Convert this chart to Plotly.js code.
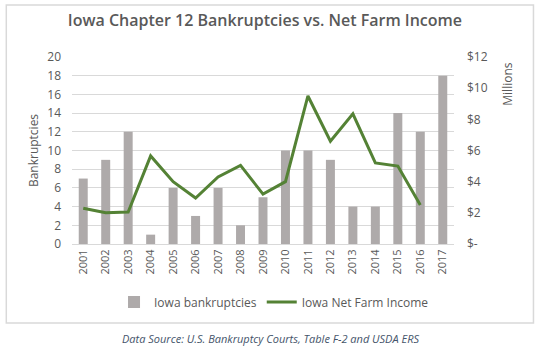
<!DOCTYPE html>
<html>
<head>
<meta charset="utf-8">
<script src="https://cdn.plot.ly/plotly-3.0.1.min.js"></script>
<style>html,body{margin:0;padding:0;background:#fff;}#chart{width:542px;height:353px;}</style>
</head>
<body>
<div id="chart"></div>
<script>
const years = ["2001","2002","2003","2004","2005","2006","2007","2008","2009","2010","2011","2012","2013","2014","2015","2016","2017"];
const bankruptcies = [7, 9, 12, 1, 6, 3, 6, 2, 5, 10, 10, 9, 4, 4, 14, 12, 18];
const incomeYears = ["2001","2002","2003","2004","2005","2006","2007","2008","2009","2010","2011","2012","2013","2014","2015","2016"];
const netFarmIncome = [2.3, 2.0, 2.05, 5.65, 4.0, 2.95, 4.3, 5.05, 3.2, 4.0, 9.5, 6.6, 8.35, 5.2, 5.0, 2.5];
const rightTickVals = [0, 2, 4, 6, 8, 10, 12];
const rightTickText = ["$-", "$2", "$4", "$6", "$8", "$10", "$12"];

const font = "Open Sans, Liberation Sans, sans-serif";
const txt = "#595959";

const traces = [
  {
    type: "bar", x: years, y: bankruptcies, name: "Iowa bankruptcies",
    marker: {color: "#aeaaaa"}, hoverinfo: "skip"
  },
  {
    type: "scatter", mode: "lines", x: incomeYears, y: netFarmIncome, yaxis: "y2",
    name: "Iowa Net Farm Income", line: {color: "#548235", width: 3}, hoverinfo: "skip"
  }
];

const layout = {
  width: 542, height: 353,
  margin: {l: 71.5, r: 87.7, t: 57, b: 109},
  paper_bgcolor: "#fff", plot_bgcolor: "#fff",
  font: {family: font, color: txt, size: 11},
  bargap: 0.6,
  showlegend: true,
  legend: {orientation: "h", x: 0.11, y: -0.31, yanchor: "middle", xanchor: "left",
           font: {size: 12, color: txt}, itemwidth: 30, traceorder: "normal"},
  title: {text: "Iowa Chapter 12 Bankruptcies vs. Net Farm Income",
          font: {size: 16, color: txt, family: font, weight: 600},
          x: 0.505, xref: "paper", xanchor: "center", y: 0.943, yanchor: "middle"},
  xaxis: {type: "category", tickangle: -90, showgrid: false, showline: true,
          linecolor: "#d9d9d9", linewidth: 1, ticks: "", tickfont: {size: 11, color: txt},
          fixedrange: true},
  yaxis: {range: [0, 20], dtick: 2, gridcolor: "#d9d9d9", gridwidth: 1, zeroline: false,
          showline: false, ticks: "", tickfont: {size: 12, color: txt}, ticklabelstandoff: 10,
          title: {text: "Bankruptcies", font: {size: 12, color: txt}, standoff: 6}},
  yaxis2: {range: [0, 12], overlaying: "y", side: "right", showgrid: false, zeroline: false,
           tickvals: rightTickVals, ticktext: rightTickText, ticks: "",
           tickfont: {size: 12, color: txt}, ticklabelstandoff: 12},
  annotations: [
    {text: "Millions", xref: "paper", yref: "paper", x: 1.14, y: 0.98, textangle: -90,
     showarrow: false, xanchor: "center", yanchor: "top", font: {size: 12, color: txt}},
    {text: "<i>Data Source: U.S. Bankruptcy Courts, Table F-2 and USDA ERS</i>",
     xref: "paper", yref: "paper", x: 0.52, y: -0.503, showarrow: false,
     xanchor: "center", yanchor: "middle", font: {size: 11, color: "#44546a"}}
  ],
  shapes: [
    {type: "rect", xref: "paper", yref: "paper", x0: -0.172, x1: 1.208, y0: -0.422, y1: 1.278,
     line: {color: "#d9d9d9", width: 1.5}, fillcolor: "rgba(0,0,0,0)", layer: "below"}
  ]
};

Plotly.newPlot("chart", traces, layout, {displayModeBar: false, staticPlot: true});
</script>
</body>
</html>
